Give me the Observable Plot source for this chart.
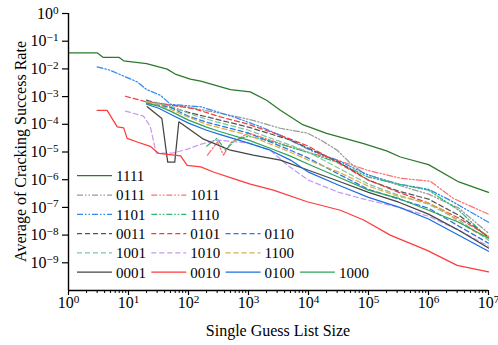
<!DOCTYPE html>
<html><head><meta charset="utf-8">
<script src="https://cdn.jsdelivr.net/npm/d3@7"></script>
<script src="https://cdn.jsdelivr.net/npm/@observablehq/plot@0.6"></script>
<style>html,body{margin:0;padding:0;background:#fff;overflow:hidden}
svg text{font-family:'Liberation Serif','DejaVu Serif',serif !important}</style>
</head><body><div id="chart"></div>
<script>
// ---- data ----
const names = ["1111","0111","1011","1101","1110","0011","0101","0110","1001","1010","1100","0001","0010","0100","1000"];

const x1111 = [1, 3, 3.8, 7, 8.3, 20, 44, 60, 107, 160, 500, 1070, 2000, 3400, 7800, 2e4, 8.3e4, 2e5, 3.4e5, 1e6, 3.2e6, 1e7];
const y1111 = [3.8e-2, 3.8e-2, 2.6e-2, 2.6e-2, 1.95e-2, 1.55e-2, 9.8e-3, 6.5e-3, 4.3e-3, 3.6e-3, 1.8e-3, 1.48e-3, 7.4e-4, 3.2e-4, 1.0e-4, 4.7e-5, 2.0e-5, 1.1e-5, 6.6e-6, 3.5e-6, 8.3e-7, 3.5e-7];

const x0111 = [20, 100, 340, 1000, 3400, 9600, 1.6e4, 3e4, 5e4, 8.3e4, 3.2e5, 1e6, 3.2e6, 1e7];
const y0111 = [6.8e-4, 4.1e-4, 2.5e-4, 1.53e-4, 7.2e-5, 4.8e-5, 2.7e-5, 1.16e-5, 3.9e-6, 1.72e-6, 6.3e-7, 3.0e-7, 9.4e-8, 1.17e-8];

const x1011 = [207, 304, 383, 500, 1000, 2300, 7400, 3e4, 9.6e4, 3.4e5, 1.07e6, 2.6e6, 1e7];
const y1011 = [7.7e-6, 2.3e-5, 7.7e-6, 2.1e-5, 4.8e-5, 2.7e-5, 1.16e-5, 5.1e-6, 2.2e-6, 1.13e-6, 8.8e-7, 2.1e-7, 5.7e-8];

const x1101 = [3, 5, 8.3, 14, 20, 34, 50, 74, 160, 560, 1600, 3400, 1.07e4, 3e4, 1e5, 3.2e5, 1e6, 2.3e6, 1e7];
const y1101 = [1.18e-2, 8.9e-3, 5.5e-3, 3.4e-3, 1.8e-3, 1.12e-3, 5.3e-4, 4.9e-4, 4.3e-4, 1.86e-4, 8.1e-5, 4.0e-5, 1.16e-5, 5.1e-6, 1.45e-6, 6.9e-7, 4.5e-7, 1.8e-7, 2.9e-8];

const x1110 = [200, 295, 415, 600, 1000, 2300, 7400, 3e4, 1e5, 3.2e5, 1e6, 3.2e6, 1e7];
const y1110 = [1.62e-5, 3.1e-5, 1.16e-5, 2.7e-5, 3.7e-5, 2.5e-5, 1.16e-5, 4.3e-6, 1.23e-6, 6.9e-7, 4.2e-7, 7.9e-8, 7.7e-9];

const x0011 = [20, 100, 1000, 5000, 1e4, 3.2e4, 1e5, 3.2e5, 1e6, 3.2e6, 1e7];
const y0011 = [7.4e-4, 2.7e-4, 7.9e-5, 2.7e-5, 1.37e-5, 4.3e-6, 9.6e-7, 3.8e-7, 2.0e-7, 5.2e-8, 8.4e-9];

const x0101 = [8.9, 14, 20, 50, 120, 340, 1000, 3400, 1e4, 3.2e4, 1e5, 3.2e5, 1e6, 3.2e6, 1e7];
const y0101 = [1.03e-3, 7.9e-4, 6.4e-4, 4.9e-4, 3.7e-4, 1.86e-4, 1.0e-4, 4.0e-5, 1.62e-5, 3.9e-6, 9.6e-7, 3.5e-7, 1.42e-7, 4.1e-8, 9.1e-9];

const x0110 = [20, 50, 100, 200, 1000, 5000, 1e4, 3.2e4, 1e5, 3.2e5, 1e6, 3.2e6, 1e7];
const y0110 = [5.8e-4, 4.1e-4, 1.96e-4, 1.19e-4, 4.8e-5, 1.16e-5, 6.0e-6, 1.58e-6, 4.5e-7, 2.0e-7, 9.4e-8, 2.1e-8, 5.1e-9];

const x1001 = [20, 50, 100, 200, 1000, 5000, 1e4, 3.2e4, 1e5, 3.2e5, 1e6, 3.2e6, 1e7];
const y1001 = [6.8e-4, 4.5e-4, 2.5e-4, 1.53e-4, 6.1e-5, 1.76e-5, 9.8e-6, 2.6e-6, 6.9e-7, 2.75e-7, 1.3e-7, 3.5e-8, 6.5e-9];

const x1010 = [8.9, 17.8, 23, 29, 54, 96, 158, 305, 1000, 2300, 4500, 1e4, 3.2e4, 1e5, 3.2e5, 1e6, 3.2e6, 1e7];
const y1010 = [3.0e-4, 1.96e-4, 8.5e-5, 9.1e-6, 9.1e-6, 1.26e-5, 1.9e-5, 2.7e-5, 2.1e-5, 1.16e-5, 3.3e-6, 9.6e-7, 3.5e-7, 1.8e-7, 1.02e-7, 4.8e-8, 1.5e-8, 4.0e-9];

const x1100 = [20, 50, 100, 200, 1000, 5000, 1e4, 3.2e4, 1e5, 3.2e5, 1e6, 1.8e6, 3.2e6, 6e6, 1e7];
const y1100 = [6.3e-4, 3.5e-4, 1.8e-4, 1.0e-4, 4.0e-5, 9.8e-6, 5.1e-6, 1.87e-6, 5.8e-7, 2.5e-7, 1.42e-7, 7.9e-8, 2.9e-8, 1.3e-8, 8.4e-9];

const x0001 = [20.5, 36, 45, 59, 69, 178, 500, 1200, 3400, 1e4, 3.2e4, 1e5, 3.2e5, 1e6, 3.2e6, 1e7];
const y0001 = [4.3e-4, 1.62e-4, 4.3e-6, 4.3e-6, 1.23e-4, 2.9e-5, 1.16e-5, 7.7e-6, 5.1e-6, 2.2e-6, 8.8e-7, 3.5e-7, 1.54e-7, 5.7e-8, 1.5e-8, 3.4e-9];

const x0010 = [3, 4.4, 6.5, 8.3, 9.5, 14, 23, 32, 74, 95, 160, 260, 560, 1070, 2600, 9500, 3.4e4, 8.3e4, 2.3e5, 9.5e5, 3e6, 1e7];
const y0010 = [3.2e-4, 3.2e-4, 8.1e-5, 7.4e-5, 3.1e-5, 2.3e-5, 1.6e-5, 8.9e-6, 7.2e-6, 3.3e-6, 2.9e-6, 1.9e-6, 1.1e-6, 6.9e-7, 4.2e-7, 1.6e-7, 7.9e-8, 3.5e-8, 1.0e-8, 2.8e-9, 8.1e-10, 4.7e-10];

const x0100 = [20, 32, 50, 100, 200, 320, 1000, 2300, 5000, 1e4, 3.2e4, 1e5, 3.2e5, 1e6, 3.2e6, 1e7];
const y0100 = [5.3e-4, 3.8e-4, 2.3e-4, 1.1e-4, 6.1e-5, 4.4e-5, 2.1e-5, 1.16e-5, 5.1e-6, 1.87e-6, 6.3e-7, 2.3e-7, 1.02e-7, 3.8e-8, 9.9e-9, 2.6e-9];

const x1000 = [20, 32, 50, 100, 200, 320, 1000, 2300, 5000, 1e4, 3.2e4, 1e5, 3.2e5, 1e6, 3.2e6, 1e7];
const y1000 = [5.8e-4, 4.5e-4, 3.0e-4, 1.41e-4, 7.9e-5, 5.6e-5, 2.7e-5, 1.37e-5, 7.1e-6, 3.6e-6, 1.23e-6, 4.2e-7, 2.1e-7, 7.9e-8, 2.9e-8, 7.7e-9];

const xTickValues = [1, 10, 100, 1e3, 1e4, 1e5, 1e6, 1e7];
const yTickValues = [1, 1e-1, 1e-2, 1e-3, 1e-4, 1e-5, 1e-6, 1e-7, 1e-8, 1e-9];

// ---- styles ----
const colors = {
  "1111": "#2b7a2b", "0111": "#9a9a9a", "1011": "#ff7070", "1101": "#3388ee", "1110": "#30b870",
  "0011": "#555555", "0101": "#ee4040", "0110": "#2a78e8", "1001": "#80c8a0", "1010": "#c49cf0",
  "1100": "#dcae48", "0001": "#444444", "0010": "#ff3b3b", "0100": "#1b6fe0", "1000": "#2ea35a"
};
const DDOT = "6,2,1.5,2,1.5,2", DASH = "5,3";
const dashes = {
  "1111": null, "0111": DDOT, "1011": DDOT, "1101": DDOT, "1110": DDOT,
  "0011": DASH, "0101": DASH, "0110": DASH, "1001": DASH, "1010": DASH, "1100": DASH,
  "0001": null, "0010": null, "0100": null, "1000": null
};
const seriesX = {"1111":x1111,"0111":x0111,"1011":x1011,"1101":x1101,"1110":x1110,"0011":x0011,"0101":x0101,"0110":x0110,"1001":x1001,"1010":x1010,"1100":x1100,"0001":x0001,"0010":x0010,"0100":x0100,"1000":x1000};
const seriesY = {"1111":y1111,"0111":y0111,"1011":y1011,"1101":y1101,"1110":y1110,"0011":y0011,"0101":y0101,"0110":y0110,"1001":y1001,"1010":y1010,"1100":y1100,"0001":y0001,"0010":y0010,"0100":y0100,"1000":y1000};

const minorTicks = [];
for (let d = 0; d < 7; d++) for (let k = 2; k <= 9; k++) minorTicks.push(k * Math.pow(10, d));

const FONT = "'Liberation Serif', 'DejaVu Serif', serif";
const LW = 1.25;

const lineMarks = names.map(n => {
  const data = seriesX[n].map((x, i) => ({x, y: seriesY[n][i]}));
  const opt = {x: "x", y: "y", stroke: colors[n], strokeWidth: LW};
  if (dashes[n]) opt.strokeDasharray = dashes[n];
  return Plot.line(data, opt);
});

const W = 498, H = 345, ML = 68, MR = 10, MT = 13, MB = 55;

const chart = Plot.plot({
  width: W, height: H,
  marginLeft: ML, marginRight: MR, marginTop: MT, marginBottom: MB,
  style: {fontFamily: FONT, fontSize: "16px", background: "white", color: "black", overflow: "visible"},
  x: {type: "log", domain: [1, 1e7]},
  y: {type: "log", domain: [1e-10, 1]},
  marks: [
    Plot.axisX({ticks: minorTicks, tickSize: 3, tickFormat: () => "", label: null, strokeWidth: 1}),
    Plot.axisX({ticks: xTickValues, tickSize: 5, tickPadding: 1, fontSize: 16, label: null, strokeWidth: 1.2,
      tickFormat: d => String(Math.round(Math.log10(d)))}),
    Plot.axisY({ticks: yTickValues, tickSize: 6, tickPadding: 4, fontSize: 16, label: null, strokeWidth: 1.2,
      tickFormat: d => String(Math.round(Math.log10(d)))}),
    ...lineMarks,
    Plot.ruleY([1e-10], {stroke: "black", strokeWidth: 1.4}),
    Plot.ruleX([1], {stroke: "black", strokeWidth: 1.4})
  ]
});
document.getElementById("chart").appendChild(chart);

// superscript exponents on tick labels
const svg = d3.select(chart);
svg.selectAll('g[aria-label="x-axis tick label"] text, g[aria-label="y-axis tick label"] text').each(function() {
  const t = d3.select(this);
  const e = this.textContent.trim();
  if (e === "") return;
  const exp = e.replace("-", "\u2212");
  t.text("10");
  t.append("tspan").attr("dy", "-0.45em").attr("font-size", "0.7em").text(exp);
});

// axis titles
svg.append("text")
  .attr("x", (ML + W - MR) / 2).attr("y", H - 9)
  .attr("text-anchor", "middle").attr("font-size", 16).attr("fill", "black")
  .text("Single Guess List Size");
svg.append("text")
  .attr("transform", `translate(26,${(MT + H - MB) / 2}) rotate(-90)`)
  .attr("text-anchor", "middle").attr("font-size", 16).attr("fill", "black")
  .text("Average of Cracking Success Rate");

// legend
const legendRows = [["1111"], ["0111","1011"], ["1101","1110"], ["0011","0101","0110"], ["1001","1010","1100"], ["0001","0010","0100","1000"]];
const lg = svg.append("g").attr("font-size", 15).attr("text-anchor", "start");
const lx0 = ML + 9, ly0 = 175.7, colW = 74.3, rowH = 19.3, sampleW = 35;
legendRows.forEach((row, r) => row.forEach((n, c) => {
  const x0 = lx0 + c * colW, yy = ly0 + r * rowH;
  const ln = lg.append("line").attr("x1", x0).attr("x2", x0 + sampleW).attr("y1", yy).attr("y2", yy)
    .attr("stroke", colors[n]).attr("stroke-width", LW);
  if (dashes[n]) ln.attr("stroke-dasharray", dashes[n]);
  lg.append("text").attr("x", x0 + sampleW + 4).attr("y", yy).attr("dy", "0.36em")
    .attr("text-anchor", "start").attr("fill", "black").text(n);
}));
</script></body></html>
